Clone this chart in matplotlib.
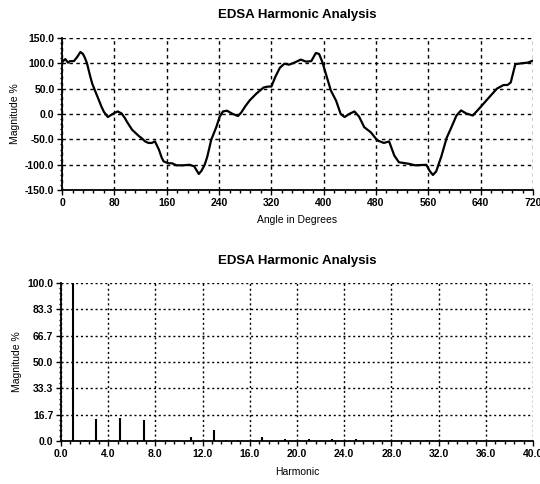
import matplotlib
matplotlib.use("Agg")
import matplotlib.pyplot as plt
from matplotlib.ticker import AutoMinorLocator

plt.rcParams['font.family'] = ['Liberation Sans Narrow', 'Liberation Sans', 'DejaVu Sans']

# waveform (angle in degrees, magnitude %)
angle = [0, 3, 5, 9, 12, 18, 23, 28, 32, 35, 38, 43, 46, 50, 56, 60, 64, 70, 76, 80,
         85, 91, 96, 99, 107, 112, 117, 122, 127, 132, 137, 142, 148, 152, 155, 162, 168, 175, 185, 195,
         202, 209, 213, 218, 222, 228, 236, 241, 246, 252, 261, 269, 274, 280, 287, 297, 308, 315, 320, 326,
         333, 340, 347, 355, 365, 373, 381, 388, 393, 398, 404, 411, 419, 426, 432, 439, 447, 454, 462, 472,
         482, 492, 500, 508, 515, 530, 540, 557, 562, 567, 572, 580, 588, 595, 603, 610, 618, 628, 638, 651,
         665, 675, 681, 686, 693, 704, 712, 720]
magnitude = [102, 106, 108, 101, 104, 104, 112, 122, 118, 110, 100, 74, 60, 47, 28, 15, 4, -6, -1, 2,
             5, 1, -8, -15, -31, -37, -43, -48, -54, -57, -57, -54, -70, -85, -93, -97, -97, -101, -101, -100,
             -103, -118, -112, -100, -84, -51, -25, -5, 5, 6.5, 0, -4, 3, 15, 27, 40, 52, 54, 54, 73,
             91, 99, 97, 101, 107, 103, 104, 120, 118, 102, 76, 46, 26, 0, -6, 0, 5, -5, -26, -36,
             -52, -57, -54, -82, -95, -98, -101, -100, -112, -120, -113, -83, -47, -27, -3, 7, 1, -3, 11, 30,
             50, 57, 57, 62, 98, 100, 101, 105]

# harmonic spectrum
harmonic = [1, 2, 3, 5, 7, 9, 11, 13, 14, 15, 17, 19, 21, 23, 25, 27, 29, 31, 33, 35, 37, 39]
harm_mag = [100, 0.6, 13.8, 14.5, 13.5, 0.4, 2.3, 7.0, 0.6, 0.6, 2.8, 1.5, 1.2, 1.3, 1.4,
            0.5, 0.4, 0.5, 0.6, 0.6, 0.4, 0.4]

top_xticks = [0, 80, 160, 240, 320, 400, 480, 560, 640, 720]
top_yticks = [-150, -100, -50, 0, 50, 100, 150]
top_yticklabels = ['-150.0', '-100.0', '-50.0', '0.0', '50.0', '100.0', '150.0']
bot_xticks = [0, 4, 8, 12, 16, 20, 24, 28, 32, 36, 40]
bot_xticklabels = ['0.0', '4.0', '8.0', '12.0', '16.0', '20.0', '24.0', '28.0', '32.0', '36.0', '40.0']
bot_yticks = [0, 16.7, 33.3, 50.0, 66.7, 83.3, 100.0]
bot_yticklabels = ['0.0', '16.7', '33.3', '50.0', '66.7', '83.3', '100.0']

fig = plt.figure(figsize=(5.4, 4.84), dpi=100)
ax1 = fig.add_axes([0.115, 0.607, 0.872, 0.315])
ax2 = fig.add_axes([0.113, 0.089, 0.874, 0.326])


def style(ax):
    ax.spines['top'].set_visible(False)
    ax.spines['right'].set_visible(False)
    ax.spines['left'].set_linewidth(1.3)
    ax.spines['bottom'].set_linewidth(1.3)
    ax.xaxis.set_minor_locator(AutoMinorLocator(5))
    ax.yaxis.set_minor_locator(AutoMinorLocator(5))
    ax.tick_params(which='major', direction='out', length=3.5, width=1, pad=2,
                   labelsize=7.5, colors='black')
    ax.tick_params(which='minor', direction='out', length=1.8, width=1)
    for lab in ax.get_xticklabels() + ax.get_yticklabels():
        lab.set_fontweight('bold')
    ax.grid(True, which='major', color='black', linewidth=1, linestyle=(0, (2.5, 2.5)))
    ax.set_axisbelow(True)


# top: waveform
ax1.plot(angle, magnitude, color='black', linewidth=1.6)
ax1.set_xlim(0, 720)
ax1.set_ylim(-150, 150)
ax1.set_xticks(top_xticks)
ax1.set_yticks(top_yticks)
ax1.set_yticklabels(top_yticklabels)
style(ax1)
ax1.set_xlabel('Angle in Degrees', fontsize=7.5, labelpad=5)
ax1.set_ylabel('Magnitude %', fontsize=7.5, labelpad=4)
ax1.set_title('EDSA Harmonic Analysis', fontsize=9.5, fontweight='bold', pad=14)

# bottom: spectrum
ax2.vlines(harmonic, 0, harm_mag, color='black', linewidth=1.5)
ax2.set_xlim(0, 40)
ax2.set_ylim(0, 100)
ax2.set_xticks(bot_xticks)
ax2.set_xticklabels(bot_xticklabels)
ax2.set_yticks(bot_yticks)
ax2.set_yticklabels(bot_yticklabels)
style(ax2)
ax2.grid(True, which='major', color='black', linewidth=1, linestyle=(0, (1.5, 2)))
ax2.set_xlabel('Harmonic', fontsize=7.5, labelpad=6)
ax2.set_ylabel('Magnitude %', fontsize=7.5, labelpad=4)
ax2.set_title('EDSA Harmonic Analysis', fontsize=9.5, fontweight='bold', pad=14)

fig.savefig('out.png', dpi=100)
